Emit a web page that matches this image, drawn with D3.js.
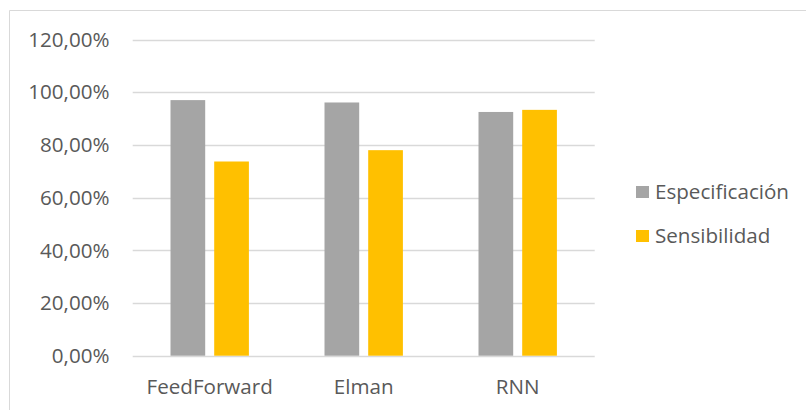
<!DOCTYPE html>
<html>
<head>
<meta charset="utf-8">
<script src="https://cdn.jsdelivr.net/npm/d3@7"></script>
<style>
  html, body { margin: 0; padding: 0; background: #fff; }
  svg { display: block; }
  text { font-family: "Open Sans", "Noto Sans", sans-serif; fill: #595959; }
</style>
</head>
<body>
<svg id="chart" width="806" height="410"></svg>
<script>
const categories = ["FeedForward", "Elman", "RNN"];
const seriesNames = ["Especificación", "Sensibilidad"];
const especificacion = [0.970, 0.961, 0.925];
const sensibilidad = [0.737, 0.780, 0.933];
const yTicks = [0, 0.2, 0.4, 0.6, 0.8, 1.0, 1.2];
const colors = ["#A5A5A5", "#FFC000"];

const seriesValues = [especificacion, sensibilidad];
const svg = d3.select("#chart");
const fontSize = "20.6px";

// chart area border (top and left visible)
svg.append("line").attr("x1", 9.5).attr("x2", 806).attr("y1", 10.5).attr("y2", 10.5)
  .attr("stroke", "#D9D9D9").attr("stroke-width", 1);
svg.append("line").attr("x1", 9.5).attr("x2", 9.5).attr("y1", 10.5).attr("y2", 410)
  .attr("stroke", "#D9D9D9").attr("stroke-width", 1);

const plot = { left: 132.7, right: 594.7, top: 39.5, bottom: 355.7 };

const y = d3.scaleLinear().domain([0, 1.2]).range([plot.bottom, plot.top]);
const x0 = d3.scaleBand().domain(categories).range([plot.left, plot.right]).padding(0);
const x1 = d3.scaleBand().domain(seriesNames).range([0, x0.bandwidth()])
  .paddingInner(0.206).paddingOuter(0.865);

// gridlines
svg.append("g").selectAll("line").data(yTicks).join("line")
  .attr("x1", plot.left).attr("x2", plot.right)
  .attr("y1", d => Math.round(y(d)) + 0.5).attr("y2", d => Math.round(y(d)) + 0.5)
  .attr("stroke", "#D9D9D9").attr("stroke-width", 1.3);

// y tick labels
const fmt = d => d3.format(".2f")(d * 100).replace(".", ",") + "%";
svg.append("g").selectAll("text").data(yTicks).join("text")
  .attr("x", 109.5).attr("y", d => y(d)).attr("dy", "0.35em")
  .attr("text-anchor", "end").style("font-size", fontSize)
  .text(fmt);

// bars
const data = categories.flatMap((c, i) => seriesNames.map((s, j) => ({ c, s, j, v: seriesValues[j][i] })));
svg.append("g").selectAll("rect").data(data).join("rect")
  .attr("x", d => x0(d.c) + x1(d.s))
  .attr("width", x1.bandwidth())
  .attr("y", d => y(d.v))
  .attr("height", d => y(0) - y(d.v))
  .attr("fill", d => colors[d.j]);

// category labels
svg.append("g").selectAll("text").data(categories).join("text")
  .attr("x", d => x0(d) + x0.bandwidth() / 2).attr("y", 394)
  .attr("text-anchor", "middle").style("font-size", fontSize)
  .text(d => d);

// legend
const legend = svg.append("g").selectAll("g").data(seriesNames).join("g")
  .attr("transform", (d, i) => `translate(636, ${192 + i * 44})`);
legend.append("rect").attr("x", 0).attr("y", -6).attr("width", 13).attr("height", 12)
  .attr("fill", (d, i) => colors[i]);
legend.append("text").attr("x", 19).attr("y", 0).attr("dy", "0.35em")
  .style("font-size", fontSize).text(d => d);
</script>
</body>
</html>
